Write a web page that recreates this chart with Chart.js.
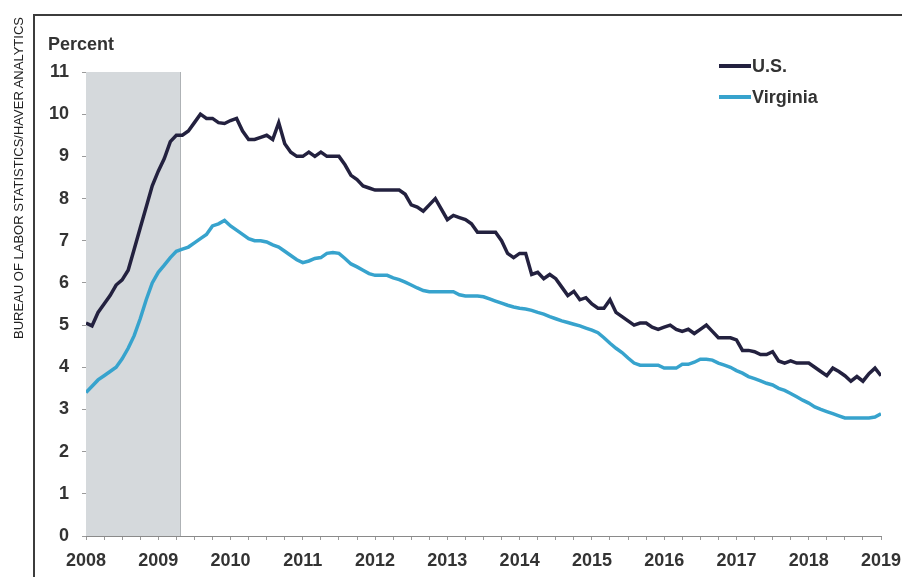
<!DOCTYPE html>
<html>
<head>
<meta charset="utf-8">
<script src="https://cdn.jsdelivr.net/npm/chart.js@4/dist/chart.umd.min.js"></script>
<style>
  html, body { margin: 0; padding: 0; background: #fff; }
  #wrap { position: relative; width: 902px; height: 577px; overflow: hidden; }
  #frame { position: absolute; left: 33px; top: 14px; width: 900px; height: 600px;
           border-left: 2px solid #3c3c3c; border-top: 2px solid #3c3c3c; pointer-events: none; }
  #source { position: absolute; left: 18px; top: 178px; transform: translate(-50%, -50%) rotate(-90deg);
            white-space: nowrap; font: 13px "Liberation Sans", Arial, sans-serif; color: #222; }
  canvas { position: absolute; left: 0; top: 0; }
</style>
</head>
<body>
<div id="wrap">
  <canvas id="rateChart" width="902" height="577"></canvas>
  <div id="frame"></div>
  <div id="source">BUREAU OF LABOR STATISTICS/HAVER ANALYTICS</div>
</div>
<script>
// ── unemployment rate, monthly from Jan 2008 ──────────────────────

const startYear = 2008;
const endYear   = 2019;
const recession = [2008, 2009.3];
const seriesNames  = ['U.S.', 'Virginia'];
const seriesColors = ['#23213f', '#37a3cd'];

const usRate = [
  5.05, 4.98, 5.3, 5.5, 5.7, 5.95, 6.07, 6.3, 6.8, 7.3, 7.8, 8.3,
  8.65, 8.95, 9.35, 9.5, 9.5, 9.6, 9.8, 10.0, 9.9, 9.9, 9.8, 9.78,
  9.85, 9.9, 9.6, 9.4, 9.4, 9.45, 9.5, 9.4, 9.8, 9.3, 9.1, 9.0,
  9.0, 9.1, 9.0, 9.1, 9.0, 9.0, 9.0, 8.8, 8.55, 8.45, 8.3, 8.25,
  8.2, 8.2, 8.2, 8.2, 8.2, 8.1, 7.85, 7.8, 7.7, 7.85, 8.0, 7.75,
  7.5, 7.6, 7.55, 7.5, 7.4, 7.2, 7.2, 7.2, 7.2, 7.0, 6.7, 6.6,
  6.7, 6.7, 6.2, 6.25, 6.1, 6.2, 6.1, 5.9, 5.7, 5.8, 5.6, 5.65,
  5.5, 5.4, 5.4, 5.6, 5.3, 5.2, 5.1, 5.0, 5.05, 5.05, 4.95, 4.9,
  4.95, 5.0, 4.9, 4.85, 4.9, 4.8, 4.9, 5.0, 4.85, 4.7, 4.7, 4.7,
  4.65, 4.4, 4.4, 4.37, 4.3, 4.3, 4.37, 4.15, 4.1, 4.15, 4.1, 4.1,
  4.1, 4.0, 3.9, 3.8, 3.98, 3.9, 3.8, 3.67, 3.78, 3.67, 3.85, 3.98,
  3.8
];

const vaRate = [
  3.4, 3.55, 3.7, 3.8, 3.9, 4.0, 4.2, 4.45, 4.75, 5.15, 5.6, 6.0,
  6.25, 6.42, 6.6, 6.75, 6.8, 6.85, 6.95, 7.05, 7.15, 7.35, 7.4, 7.48,
  7.35, 7.25, 7.15, 7.05, 7.0, 7.0, 6.97, 6.9, 6.85, 6.75, 6.65, 6.55,
  6.48, 6.52, 6.58, 6.6, 6.7, 6.72, 6.7, 6.58, 6.45, 6.38, 6.3, 6.22,
  6.18, 6.18, 6.18, 6.12, 6.08, 6.02, 5.95, 5.88, 5.82, 5.79, 5.79, 5.79,
  5.79, 5.79, 5.72, 5.69, 5.69, 5.69, 5.67, 5.62, 5.57, 5.52, 5.47, 5.43,
  5.4, 5.38, 5.35, 5.3, 5.26, 5.2, 5.15, 5.1, 5.06, 5.02, 4.98, 4.93,
  4.88, 4.82, 4.7, 4.57, 4.45, 4.35, 4.22, 4.1, 4.05, 4.05, 4.05, 4.05,
  3.98, 3.98, 3.98, 4.07, 4.07, 4.12, 4.19, 4.19, 4.17, 4.1, 4.05, 4.0,
  3.92, 3.86, 3.78, 3.73, 3.68, 3.62, 3.58, 3.5, 3.45, 3.38, 3.3, 3.22,
  3.15, 3.06, 3.0, 2.95, 2.9, 2.85, 2.8, 2.8, 2.8, 2.8, 2.8, 2.82,
  2.9
];

const FONT = '"Liberation Sans", Arial, sans-serif';
const TEXT = '#333333';

function toPoints(values) {
  return values.map((v, i) => ({ x: startYear + i / 12, y: v }));
}

// grey recession band, behind the lines
const recessionBand = {
  id: 'recessionBand',
  beforeDatasetsDraw(chart) {
    const { ctx, chartArea, scales: { x } } = chart;
    const x0 = x.getPixelForValue(recession[0]);
    const x1 = x.getPixelForValue(recession[1]);
    ctx.save();
    ctx.fillStyle = '#d5d9dc';
    ctx.fillRect(x0, chartArea.top, x1 - x0, chartArea.bottom - chartArea.top);
    ctx.strokeStyle = '#aeb2b5';
    ctx.lineWidth = 1;
    ctx.beginPath();
    ctx.moveTo(Math.round(x1) + 0.5, chartArea.top);
    ctx.lineTo(Math.round(x1) + 0.5, chartArea.bottom);
    ctx.stroke();
    ctx.restore();
  }
};

// "Percent" unit label and the line legend at top right
const extras = {
  id: 'extras',
  afterDraw(chart) {
    const { ctx } = chart;
    ctx.save();
    ctx.font = 'bold 18px ' + FONT;
    ctx.fillStyle = TEXT;
    ctx.textBaseline = 'alphabetic';
    ctx.fillText('Percent', 48, 50);

    ctx.textBaseline = 'middle';
    seriesNames.forEach((name, i) => {
      const y = 66 + i * 31;
      ctx.strokeStyle = seriesColors[i];
      ctx.lineWidth = 4;
      ctx.beginPath();
      ctx.moveTo(719, y);
      ctx.lineTo(751, y);
      ctx.stroke();
      ctx.fillStyle = TEXT;
      ctx.fillText(name, 752, y + 1);
    });
    ctx.restore();
  }
};

new Chart(document.getElementById('rateChart'), {
  type: 'line',
  data: {
    datasets: [
      { label: seriesNames[0], data: toPoints(usRate), borderColor: seriesColors[0] },
      { label: seriesNames[1], data: toPoints(vaRate), borderColor: seriesColors[1] },
    ].map(d => ({ ...d, borderWidth: 3.5, pointRadius: 0, tension: 0, fill: false })),
  },
  options: {
    responsive: false,
    animation: false,
    devicePixelRatio: 1,
    layout: { padding: { left: 0, right: 21, top: 72, bottom: 0 } },
    plugins: { legend: { display: false }, tooltip: { enabled: false } },
    scales: {
      x: {
        type: 'linear',
        min: startYear,
        max: endYear,
        afterFit: s => { s.height = 41; s.paddingLeft = 0; s.paddingRight = 0; },
        border: { display: true, color: '#8a8a8a', width: 1 },
        grid: { drawOnChartArea: false, drawTicks: true, tickLength: 4, color: '#9a9a9a' },
        ticks: {
          stepSize: 0.25,
          autoSkip: false,
          maxRotation: 0,
          padding: 10,
          color: TEXT,
          font: { family: FONT, size: 18, weight: 'bold' },
          callback: v => Number.isInteger(v) ? String(v) : '',
        },
      },
      y: {
        min: 0,
        max: 11,
        afterFit: s => { s.width = 86; },
        border: { display: true, color: '#8a8a8a', width: 1 },
        grid: { drawOnChartArea: false, drawTicks: true, tickLength: 4, color: '#9a9a9a' },
        ticks: {
          stepSize: 1,
          padding: 13,
          color: TEXT,
          font: { family: FONT, size: 18, weight: 'bold' },
        },
      },
    },
  },
  plugins: [recessionBand, extras],
});
</script>
</body>
</html>
